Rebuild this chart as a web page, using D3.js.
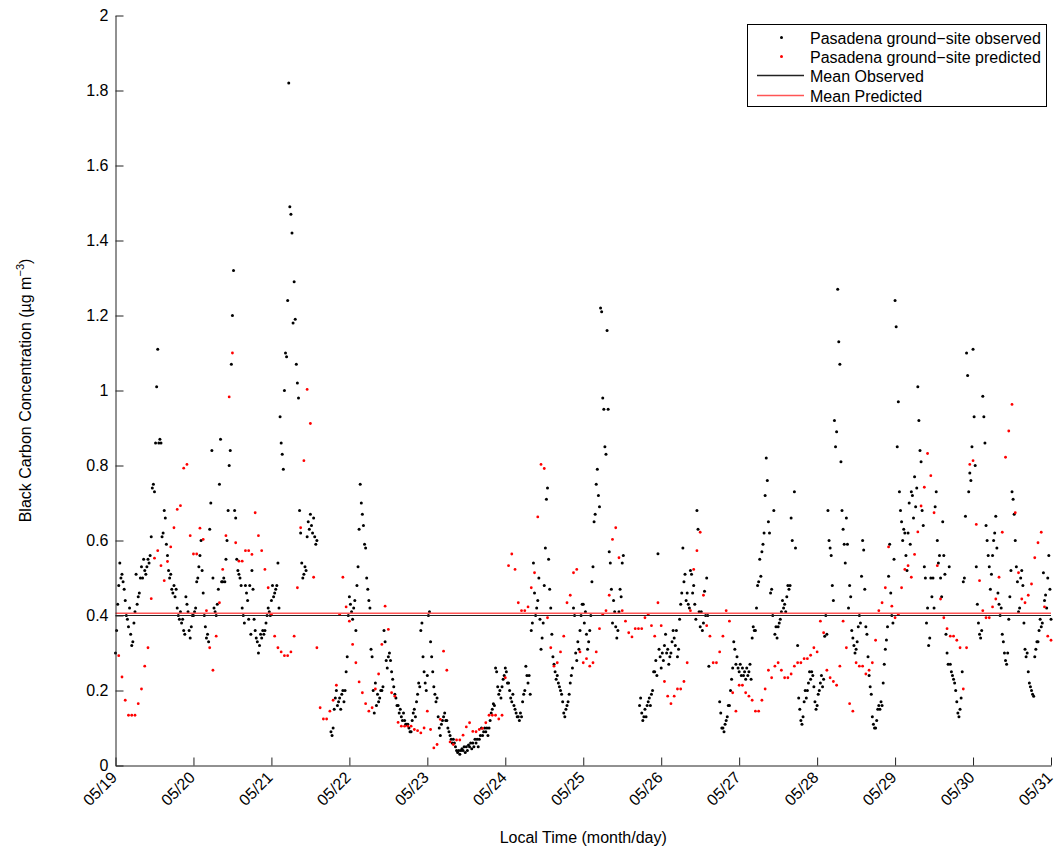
<!DOCTYPE html>
<html><head><meta charset="utf-8">
<script src="https://cdn.jsdelivr.net/npm/d3@7"></script>
<style>
body{margin:0;background:#fff;}
text{font-family:"Liberation Sans",Arial,Helvetica,sans-serif;}
</style>
</head><body>
<svg id="c" width="1057" height="850"></svg>
<script>
// ---------- tick labels ----------
const dayLabels = ["05/19","05/20","05/21","05/22","05/23","05/24","05/25","05/26","05/27","05/28","05/29","05/30","05/31"];
const yTicks = [0,0.2,0.4,0.6,0.8,1,1.2,1.4,1.6,1.8,2];

// ---------- observed, every 20 min, one array per day ----------
const _ = null;
const obs0519 = [0.30,0.36,0.43, 0.48,0.54,0.50, 0.51,0.49,0.47, 0.44,0.40,0.39, 0.37,0.42,0.35, 0.32,0.33,0.38,
                 0.41,0.51,0.43, 0.45,0.46,0.50, 0.53,0.50,0.55, 0.52,0.51,0.53, 0.55,0.54,0.56, 0.61,0.74,0.75,
                 0.73,0.86,1.01, 1.11,0.86,0.87, 0.86,0.61,0.62, 0.68,0.66,0.59, 0.56,0.52,0.50, 0.51,0.47,0.46,
                 0.48,0.45,0.47, 0.42,0.40,0.39, 0.41,0.38,0.39, 0.36,0.35,0.45, 0.43,0.41,0.36, 0.34,0.37,0.40];
const obs0520 = [0.40,0.41,0.42, 0.49,0.50,0.53, 0.56,0.60,0.52, 0.46,0.40,0.37, 0.34,0.35,0.33, 0.63,0.70,0.84,
                 0.50,0.42,0.41, 0.40,0.43,0.47, 0.75,0.87,0.49, 0.49,0.50,0.49, 0.55,0.60,0.68, 0.80,0.84,1.07,
                 1.20,1.32,0.68, 0.66,0.55,0.52, 0.51,0.50,0.48, 0.42,0.40,0.38, 0.48,0.46,0.44, 0.39,0.48,0.35,
                 0.52,0.47,0.39, 0.36,0.34,0.33, 0.30,0.32,0.35, 0.34,0.36,0.35, 0.36,0.38,0.40, 0.42,0.41,0.40];
const obs0521 = [0.44,0.48,0.45, 0.46,0.47,0.48, 0.54,0.42,0.93, 0.86,0.83,0.79, 1.00,1.10,1.09, 1.24,1.82,1.49,
                 1.47,1.42,1.18, 1.29,1.19,1.07, 1.02,0.98,0.68, 0.62,0.54,0.50, 0.51,0.53,0.52, 0.61,0.65,0.63,
                 0.67,0.64,0.62, 0.66,0.61,0.59, 0.60,_,_, _,_,_, _,_,_, _,_,_,
                 _,0.09,0.08, 0.10,0.15,0.18, 0.20,0.16,0.17, 0.18,0.15,0.19, 0.20,0.17,0.20, 0.25,0.29,0.40];
const obs0522 = [0.45,0.43,0.41, 0.39,0.42,0.44, 0.36,0.48,0.53, 0.63,0.75,0.70, 0.67,0.64,0.59, 0.58,0.50,0.47,
                 0.44,0.42,0.31, 0.29,0.20,0.14, 0.22,0.16,0.19, 0.17,0.18,0.20, 0.20,0.21,0.36, 0.33,0.28,0.26,
                 0.29,0.30,0.28, 0.25,0.23,0.21, 0.19,0.18,0.16, 0.16,0.14,0.15, 0.13,0.12,0.14, 0.12,0.11,0.11,
                 0.11,0.10,0.09, 0.09,0.12,0.14, 0.15,0.13,0.17, 0.19,0.22,0.21, 0.36,0.38,0.29, 0.25,0.22,0.20];
const obs0523 = [0.24,0.40,0.41, 0.33,0.29,0.25, 0.21,0.19,0.17, 0.18,0.13,0.10, 0.08,0.11,0.12, 0.13,0.14,0.12,
                 0.12,0.10,0.09, 0.08,0.07,0.06, 0.07,0.06,0.05, 0.04,0.035,0.04, 0.03,0.04,0.045, 0.04,0.05,0.035,
                 0.05,0.04,0.055, 0.05,0.06,0.045, 0.06,0.05,0.07, 0.06,0.07,0.05, 0.07,0.08,0.10, 0.08,0.09,0.10,
                 0.09,0.10,0.08, 0.10,0.12,0.14, 0.15,0.165,0.16, 0.26,0.25,0.21, 0.19,0.20,0.18, 0.21,0.23,0.24];
const obs0524 = [0.26,0.25,0.22, 0.22,0.20,0.18, 0.17,0.19,0.16, 0.15,0.14,0.13, 0.13,0.12,0.14, 0.13,0.17,0.19,
                 0.20,0.265,0.24, 0.22,0.24,0.19, 0.36,0.38,0.54, 0.46,0.40,0.42, 0.44,0.50,0.39, 0.31,0.34,0.38,
                 0.48,0.58,0.71, 0.74,0.55,0.47, 0.42,0.35,0.29, 0.27,0.25,0.23, 0.24,0.22,0.21, 0.20,0.19,0.17,
                 0.14,0.13,0.15, 0.16,0.17,0.19, 0.22,0.24,0.26, 0.42,0.40,0.30, 0.28,0.33,0.31, 0.36,0.40,0.43];
const obs0525 = [0.43,0.38,0.41, 0.35,0.31,0.33, 0.36,0.40,0.49, 0.53,0.65,0.67, 0.75,0.79,0.72, 0.69,1.22,1.21,
                 0.98,0.95,0.85, 0.83,1.16,0.95, 0.57,0.54,0.47, 0.38,0.44,0.41, 0.37,0.34,0.36, 0.41,0.47,0.45,
                 0.54,0.56,_, _,_,_, _,_,_, _,_,_, _,_,_, _,0.16,0.18,
                 0.14,0.12,0.13, 0.15,0.13,0.16, 0.17,0.18,0.16, 0.19,0.20,0.25, 0.25,0.28,0.24, 0.565,0.31,0.29];
const obs0526 = [0.26,0.30,0.28, 0.32,0.35,0.30, 0.31,0.27,0.29, 0.30,0.33,0.36, 0.34,0.32,0.36, 0.29,0.31,0.39,
                 0.43,0.46,0.58, 0.49,0.51,0.44, 0.46,0.43,0.42, 0.52,0.51,0.46, 0.48,0.43,0.39, 0.68,0.63,0.41,
                 0.37,0.41,0.36, 0.38,0.465,0.40, 0.50,0.40,0.265, _,_,_, _,_,_, _,_,_,
                 0.17,0.14,0.10, 0.10,0.09,0.11, 0.12,0.13,0.16, 0.16,0.20,0.23, 0.26,0.33,0.31, 0.27,0.29,0.26];
const obs0527 = [0.25,0.27,0.24, 0.26,0.24,0.25, 0.23,0.26,0.24, 0.25,0.27,0.23, 0.34,0.37,0.36, 0.36,0.42,0.48,
                 0.49,0.55,0.505, 0.57,0.59,0.62, 0.72,0.82,0.76, 0.65,0.62,0.46, 0.47,0.40,0.68, 0.35,0.37,0.34,
                 0.37,0.38,0.39, 0.41,0.44,0.42, 0.43,0.41,0.45, 0.48,0.47,0.48, 0.66,0.60,_, 0.73,0.58,_,
                 0.32,0.18,0.15, 0.12,0.11,0.13, 0.17,0.20,0.18, 0.20,0.22,0.25, 0.23,0.25,0.24, 0.21,0.17,0.15];
const obs0528 = [0.16,0.19,0.20, 0.22,0.24,0.21, 0.23,0.345,0.40, 0.35,0.68,0.60, 0.58,0.56,0.48, 0.44,0.92,0.85,
                 0.89,1.27,1.13, 1.07,0.81,0.68, 0.63,0.59,0.54, 0.66,0.59,0.42, 0.48,0.45,0.36, 0.34,0.32,0.30,
                 0.31,0.33,0.37, 0.40,0.38,0.505, 0.60,0.575,0.47, 0.37,0.35,0.29, 0.24,0.21,0.19, 0.13,0.11,0.10,
                 0.10,0.12,0.15, 0.16,0.15,0.17, 0.16,0.22,0.27, 0.31,0.335,0.37, 0.505,0.59,0.46, 0.40,0.38,0.55];
const obs0529 = [1.24,1.17,0.85, 0.97,0.73,0.68, 0.65,0.60,0.63, 0.62,0.56,0.52, 0.62,0.70,0.59, 0.73,0.72,0.66,
                 0.77,0.69,0.74, 1.01,0.92,0.84, 0.81,0.68,0.64, 0.53,0.50,0.38, 0.42,0.32,0.34, 0.50,0.45,0.50,
                 0.42,0.69,0.73, 0.60,0.54,0.56, 0.50,0.45,0.65, 0.56,0.51,0.35, 0.30,0.27,0.53, 0.27,0.25,0.24,
                 0.23,0.22,0.20, 0.17,0.14,0.13, 0.15,0.18,0.25, 0.49,0.50,0.665, 1.10,1.04,0.73, 0.78,0.76,0.85];
const obs0530 = [1.11,0.93,0.80, 0.53,0.43,0.38, 0.35,0.34,0.36, 0.985,0.93,0.86, 0.64,0.60,0.56, 0.53,0.47,0.51,
                 0.56,0.60,0.62, 0.665,0.58,0.46, 0.43,0.40,0.42, 0.35,0.33,0.30, 0.28,0.27,0.30, 0.39,0.45,0.52,
                 0.73,0.71,0.67, 0.60,0.53,0.49, 0.41,0.42,0.50, 0.52,0.48,0.38, 0.31,0.29,0.30, 0.25,0.22,0.21,
                 0.20,0.19,0.185, 0.29,0.31,0.33, 0.33,0.36,0.39, 0.37,0.38,0.514, 0.44,0.455,0.42, 0.50,0.56,0.47];
const obs0531 = [0.39];

// ---------- predicted, hourly, one array per day ----------
const pred0519 = [_,0.293,0.236,0.174,0.134,0.134,0.134,0.165,0.204,0.265,0.314,0.445,0.553,0.573,0.533,0.493,0.544,0.583,0.634,0.683,0.693,0.793,0.803,0.613];
const pred0520 = [0.564,0.564,0.633,0.603,0.413,0.314,0.254,0.345,0.434,0.523,0.613,0.983,1.100,0.594,0.545,0.545,0.573,0.573,0.563,0.674,0.613,0.573,0.523,0.474];
const pred0521 = [0.403,0.345,0.314,0.303,0.293,0.293,0.303,0.345,0.474,0.634,0.813,1.003,0.912,0.502,0.314,0.154,0.124,0.124,0.145,0.174,0.214,0.403,0.502,0.423];
const pred0522 = [0.385,0.323,0.274,0.223,0.194,0.165,0.145,0.154,0.204,0.244,0.323,0.425,0.363,0.194,0.185,0.115,0.105,0.105,0.105,0.105,0.096,0.093,0.087,0.100];
const pred0523 = [0.145,0.096,0.047,0.056,0.123,0.305,0.254,0.063,0.056,0.068,0.068,0.081,0.103,0.114,0.091,0.090,0.096,0.099,0.114,0.134,0.134,0.134,0.124,0.134];
const pred0524 = [0.234,0.533,0.564,0.523,0.434,0.413,0.413,0.423,0.474,0.514,0.663,0.803,0.792,0.394,0.314,0.265,0.274,0.303,0.345,0.434,0.454,0.514,0.523,0.303];
const pred0525 = [0.274,0.285,0.265,0.274,0.303,0.365,0.403,0.413,0.454,0.603,0.634,0.554,0.413,0.385,0.354,0.343,0.365,0.365,0.365,0.394,0.403,0.373,0.345,0.434];
const pred0526 = [0.373,0.224,0.185,0.165,0.185,0.204,0.204,0.224,0.274,0.413,0.523,0.573,0.622,0.454,0.373,0.345,0.274,0.274,0.303,0.345,0.413,0.385,0.194,0.145];
const pred0527 = [0.214,0.214,0.194,0.185,0.174,0.145,0.145,0.174,0.204,0.254,0.234,0.265,0.274,0.254,0.234,0.234,0.244,0.265,0.274,0.274,0.285,0.285,0.294,0.314];
const pred0528 = [0.303,0.385,0.354,0.254,0.234,0.224,0.214,0.265,0.385,0.314,0.165,0.145,0.274,0.265,0.265,0.244,0.254,0.274,0.334,0.413,0.434,0.474,0.583,0.425];
const pred0529 = [0.394,0.403,0.474,0.523,0.533,0.502,0.563,0.623,0.692,0.742,0.832,0.773,0.674,0.533,0.444,0.394,0.365,0.345,0.345,0.334,0.314,0.204,0.314,0.803];
const pred0530 = [0.813,0.643,0.493,0.413,0.394,0.394,0.423,0.444,0.502,0.622,0.822,0.892,0.963,0.674,0.514,0.444,0.434,0.454,0.484,0.554,0.594,0.622,0.423,0.345];
const pred0531 = [0.334];

const meanObserved = 0.400;
const meanPredicted = 0.406;

const observed = [].concat(obs0519,obs0520,obs0521,obs0522,obs0523,obs0524,obs0525,obs0526,obs0527,obs0528,obs0529,obs0530,obs0531);
const predicted = [].concat(pred0519,pred0520,pred0521,pred0522,pred0523,pred0524,pred0525,pred0526,pred0527,pred0528,pred0529,pred0530,pred0531);
const obsPts = observed.map((v,i)=>({t:i/72, v})).filter(d=>d.v!==null);
const predPts = predicted.map((v,i)=>({t:i/24, v})).filter(d=>d.v!==null);

// ---------- drawing ----------
const W = 1057, H = 850;
const svg = d3.select("#c");
svg.append("rect").attr("width",W).attr("height",H).attr("fill","#fff");

const x = d3.scaleLinear().domain([0,12]).range([115.5,1051]);
const y = d3.scaleLinear().domain([0,2]).range([765.5,15.5]);

const plot = svg.append("g");
plot.selectAll("circle.obs").data(obsPts).join("circle")
  .attr("class","obs").attr("cx",d=>x(d.t)).attr("cy",d=>y(d.v)).attr("r",1.5).attr("fill","#000");
plot.selectAll("circle.pred").data(predPts).join("circle")
  .attr("class","pred").attr("cx",d=>x(d.t)).attr("cy",d=>y(d.v)).attr("r",1.4).attr("fill","#ff0000");

plot.append("line").attr("x1",x(0)).attr("x2",x(12)).attr("y1",y(meanObserved)).attr("y2",y(meanObserved))
  .attr("stroke","#222").attr("stroke-width",1.2);
plot.append("line").attr("x1",x(0)).attr("x2",x(12)).attr("y1",y(meanPredicted)).attr("y2",y(meanPredicted))
  .attr("stroke","#f55").attr("stroke-width",1.4);

// axes
const yAxis = svg.append("g").attr("transform",`translate(${x(0)},0)`)
  .call(d3.axisLeft(y).tickValues(yTicks).tickSize(-8).tickSizeOuter(0).tickPadding(7).tickFormat(d=>String(d)));
const xAxis = svg.append("g").attr("transform",`translate(0,${y(0)})`)
  .call(d3.axisBottom(x).tickValues(d3.range(13)).tickSize(-8).tickSizeOuter(0).tickFormat(i=>dayLabels[i]));
[yAxis,xAxis].forEach(a=>{
  a.selectAll("path.domain").attr("stroke","#222").attr("stroke-width",1);
  a.selectAll(".tick line").attr("stroke","#222");
  a.selectAll("text").attr("font-size",16).attr("fill","#000")
   .style("font-family",'"Liberation Sans",Arial,sans-serif');
});
xAxis.selectAll(".tick text")
  .attr("text-anchor","end").attr("dy",null).attr("y",null)
  .attr("transform","translate(2,13) rotate(-45)");

// axis titles
svg.append("text").attr("x",(x(0)+x(12))/2).attr("y",843).attr("text-anchor","middle")
  .attr("font-size",16).text("Local Time (month/day)");
const yl = svg.append("text").attr("transform",`translate(31,${(y(0)+y(2))/2}) rotate(-90)`)
  .attr("text-anchor","middle").attr("font-size",16);
yl.append("tspan").text("Black Carbon Concentration (µg m");
yl.append("tspan").attr("font-size",11).attr("dy",-7).text("−3");
yl.append("tspan").attr("dy",7).text(")");

// legend
const lg = svg.append("g");
lg.append("rect").attr("x",747.5).attr("y",24.5).attr("width",299).attr("height",82)
  .attr("fill","#fff").attr("stroke","#000").attr("stroke-width",1);
const items = [
  {label:"Pasadena ground−site observed", kind:"dot", color:"#000"},
  {label:"Pasadena ground−site predicted", kind:"dot", color:"#ff0000"},
  {label:"Mean Observed", kind:"line", color:"#222"},
  {label:"Mean Predicted", kind:"line", color:"#f55"}
];
const rowY = [37.5, 56.5, 75.5, 95.5];
items.forEach((it,i)=>{
  const cy = rowY[i];
  if(it.kind==="dot"){
    lg.append("circle").attr("cx",781.5).attr("cy",cy).attr("r",1.5).attr("fill",it.color);
  } else {
    lg.append("line").attr("x1",757).attr("x2",804).attr("y1",cy).attr("y2",cy)
      .attr("stroke",it.color).attr("stroke-width",1.3);
  }
  lg.append("text").attr("x",810).attr("y",cy+6).attr("font-size",16).text(it.label);
});
</script>
</body></html>
